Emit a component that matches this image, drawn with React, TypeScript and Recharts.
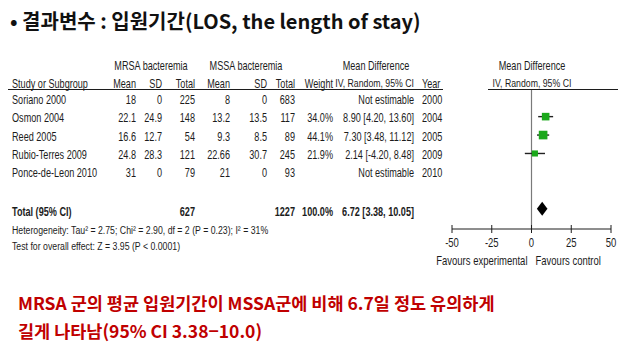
import React from 'react';
import { ScatterChart, Scatter, XAxis, YAxis, ErrorBar, ReferenceLine, ReferenceArea } from 'recharts';

// Study-level data (length of stay, days)
const studies = ['Soriano 2000', 'Osmon 2004', 'Reed 2005', 'Rubio-Terres 2009', 'Ponce-de-Leon 2010'];
const mrsaMean = ['18', '22.1', '16.6', '24.8', '31'];
const mrsaSD = ['0', '24.9', '12.7', '28.3', '0'];
const mrsaTotal = [225, 148, 54, 121, 79];
const mssaMean = ['8', '13.2', '9.3', '22.66', '21'];
const mssaSD = ['0', '13.5', '8.5', '30.7', '0'];
const mssaTotal = [683, 117, 89, 245, 93];
const weights: (number | null)[] = [null, 34.0, 44.1, 21.9, null];
const meanDiff: (number | null)[] = [null, 8.9, 7.3, 2.14, null];
const ciLow: (number | null)[] = [null, 4.2, 3.48, -4.2, null];
const ciHigh: (number | null)[] = [null, 13.6, 11.12, 8.48, null];
const years = [2000, 2004, 2005, 2009, 2010];

// Pooled estimate
const pooledMD = 6.72;
const pooledLow = 3.38;
const pooledHigh = 10.05;
const pooledMRSA = 627;
const pooledMSSA = 1227;
const pooledWeight = 100.0;

const xTicks = [-50, -25, 0, 25, 50];

const W = 620;
const H = 346;
const TOTAL_ROW = 6;

const KR_FONT = "'Noto Sans CJK KR', 'Noto Sans', sans-serif";
const TABLE_FONT = "'Liberation Sans', Arial, sans-serif";
const INK = '#1c1c1c';
const NARROW = 0.76;

const fmt2 = (v: number) => v.toFixed(2);

// Condensed table text (Arial-like face squeezed horizontally)
const NText = ({ x, y, anchor = 'start', bold = false, size = 12, children }: any) => (
  <text
    transform={`translate(${x},${y}) scale(${NARROW},1)`}
    textAnchor={anchor}
    dominantBaseline="central"
    fontFamily={TABLE_FONT}
    fontSize={size}
    fontWeight={bold ? 700 : 400}
    fill={INK}
  >
    {children}
  </text>
);

const rows = studies.map((name, i) => {
  const md = meanDiff[i];
  const lo = ciLow[i];
  const hi = ciHigh[i];
  const ok = md != null && lo != null && hi != null;
  return {
    x: 0,
    row: i,
    name,
    ciText: ok ? `${fmt2(md as number)} [${fmt2(lo as number)}, ${fmt2(hi as number)}]` : 'Not estimable',
    weightText: weights[i] != null ? `${(weights[i] as number).toFixed(1)}%` : '',
    cells: [mrsaMean[i], mrsaSD[i], String(mrsaTotal[i]), mssaMean[i], mssaSD[i], String(mssaTotal[i])],
    year: years[i],
  };
});

const estimates = studies
  .map((name, i) => ({
    name,
    row: i,
    x: meanDiff[i],
    weight: weights[i],
    err: meanDiff[i] != null ? [(meanDiff[i] as number) - (ciLow[i] as number), (ciHigh[i] as number) - (meanDiff[i] as number)] : null,
  }))
  .filter((d) => d.x != null);

// right edges of the numeric columns
const numCols = [136, 162, 195, 230, 267, 295];
const WEIGHT_RIGHT = 333;
const CI_RIGHT = 414;
const YEAR_LEFT = 422;
const NAME_LEFT = 12;

const TableRow = (props: any) => {
  const { cy, payload } = props;
  const y = cy + 1;
  return (
    <g>
      <NText x={NAME_LEFT} y={y}>{payload.name}</NText>
      {payload.cells.map((c: string, k: number) => (
        <NText key={k} x={numCols[k]} y={y} anchor="end">{c}</NText>
      ))}
      <NText x={WEIGHT_RIGHT} y={y} anchor="end">{payload.weightText}</NText>
      <NText x={CI_RIGHT} y={y} anchor="end">{payload.ciText}</NText>
      <NText x={YEAR_LEFT} y={y}>{payload.year}</NText>
    </g>
  );
};

const TotalRow = (props: any) => {
  const { cy } = props;
  const y = cy + 3;
  return (
    <g>
      <NText x={NAME_LEFT} y={y} bold>Total (95% CI)</NText>
      <NText x={numCols[2]} y={y} anchor="end" bold>{pooledMRSA}</NText>
      <NText x={numCols[5]} y={y} anchor="end" bold>{pooledMSSA}</NText>
      <NText x={WEIGHT_RIGHT} y={y} anchor="end" bold>{`${pooledWeight.toFixed(1)}%`}</NText>
      <NText x={CI_RIGHT} y={y} anchor="end" bold>{`${fmt2(pooledMD)} [${fmt2(pooledLow)}, ${fmt2(pooledHigh)}]`}</NText>
    </g>
  );
};

const WeightSquare = (props: any) => {
  const { cx, cy, payload } = props;
  const s = 1.3 * Math.sqrt(payload.weight);
  return <rect x={cx - s / 2} y={cy - s / 2} width={s} height={s} fill="#1aa81a" />;
};

const Diamond = (props: any) => {
  const { x, y, width, height } = props;
  const mx = x + width / 2;
  const my = y + height / 2;
  return <polygon points={`${x},${my} ${mx},${y} ${x + width},${my} ${mx},${y + height}`} fill="#000" />;
};

const AxisTick = (props: any) => {
  const { x, y, payload } = props;
  return (
    <g>
      <line x1={x} x2={x} y1={y - 4} y2={y + 4} stroke={INK} strokeWidth={1} />
      <NText x={x} y={y + 13} anchor="middle" size={12.5}>{payload.value}</NText>
    </g>
  );
};

const FavoursLabel = (props: any) => {
  const { viewBox } = props;
  const zx = viewBox.x + viewBox.width / 2;
  const y = viewBox.y + 31;
  return (
    <g>
      <NText x={zx - 4} y={y} anchor="end" size={12.5}>Favours experimental</NText>
      <NText x={zx + 4} y={y} size={12.5}>Favours control</NText>
    </g>
  );
};

export default function App() {
  return (
    <div style={{ position: 'absolute', left: 0, top: 0, width: W, height: H, background: '#fff', overflow: 'hidden' }}>
      <ScatterChart width={W} height={H} margin={{ top: 89, right: 9, bottom: H - 229 - 40, left: 452 }}>
        <XAxis
          type="number"
          dataKey="x"
          domain={[-50, 50]}
          ticks={xTicks}
          height={40}
          tickSize={0}
          tickMargin={0}
          tickLine={false}
          axisLine={{ stroke: INK, strokeWidth: 1 }}
          tick={<AxisTick />}
          interval={0}
          label={<FavoursLabel />}
        />
        <YAxis type="number" dataKey="row" domain={[-0.5, 7.1]} reversed hide />
        <ReferenceLine x={0} stroke="#7a7a7a" strokeWidth={1.2} />
        <Scatter data={rows} isAnimationActive={false} shape={<TableRow />} />
        <Scatter data={[{ x: 0, row: TOTAL_ROW }]} isAnimationActive={false} shape={<TotalRow />} />
        <Scatter data={estimates} isAnimationActive={false} shape={<WeightSquare />}>
          <ErrorBar dataKey="err" direction="x" width={0} stroke="#222" strokeWidth={1.4} />
        </Scatter>
        <ReferenceArea
          x1={pooledLow}
          x2={pooledHigh}
          y1={TOTAL_ROW - 0.38}
          y2={TOTAL_ROW + 0.38}
          shape={<Diamond />}
          ifOverflow="visible"
        />
      </ScatterChart>

      <svg width={W} height={H} style={{ position: 'absolute', left: 0, top: 0, pointerEvents: 'none' }}>
        <text x={10} y={20} dominantBaseline="central" fontFamily={KR_FONT} fontWeight={700} fontSize={20} fill="#111">
          • 결과변수 : 입원기간(LOS, the length of stay)
        </text>

        <NText x={151} y={65} anchor="middle">MRSA bacteremia</NText>
        <NText x={246} y={65} anchor="middle">MSSA bacteremia</NText>
        <NText x={376} y={65} anchor="middle">Mean Difference</NText>
        <NText x={532} y={65} anchor="middle">Mean Difference</NText>

        <NText x={NAME_LEFT} y={83}>Study or Subgroup</NText>
        {['Mean', 'SD', 'Total', 'Mean', 'SD', 'Total'].map((h, k) => (
          <NText key={k} x={numCols[k]} y={83} anchor="end">{h}</NText>
        ))}
        <NText x={333} y={83} anchor="end">Weight</NText>
        <NText x={CI_RIGHT} y={83} anchor="end" size={11.5}>IV, Random, 95% CI</NText>
        <NText x={YEAR_LEFT} y={83}>Year</NText>
        <NText x={532} y={83} anchor="middle" size={11.5}>IV, Random, 95% CI</NText>

        <NText x={NAME_LEFT} y={230} size={11.5}>
          Heterogeneity: Tau² = 2.75; Chi² = 2.90, df = 2 (P = 0.23); I² = 31%
        </NText>
        <NText x={NAME_LEFT} y={246} size={11.5}>
          Test for overall effect: Z = 3.95 (P &lt; 0.0001)
        </NText>

        <line x1={8} x2={443} y1={89.5} y2={89.5} stroke={INK} strokeWidth={1.2} />
        <line x1={488} x2={618} y1={89.5} y2={89.5} stroke={INK} strokeWidth={1.2} />

        <g fontFamily={KR_FONT} fontWeight={700} fontSize={17.5} fill="#c00000">
          <text x={18} y={302} dominantBaseline="central">MRSA 군의 평균 입원기간이 MSSA군에 비해 6.7일 정도 유의하게</text>
          <text x={18} y={330} dominantBaseline="central">길게 나타남(95% CI 3.38−10.0)</text>
        </g>
      </svg>
    </div>
  );
}
